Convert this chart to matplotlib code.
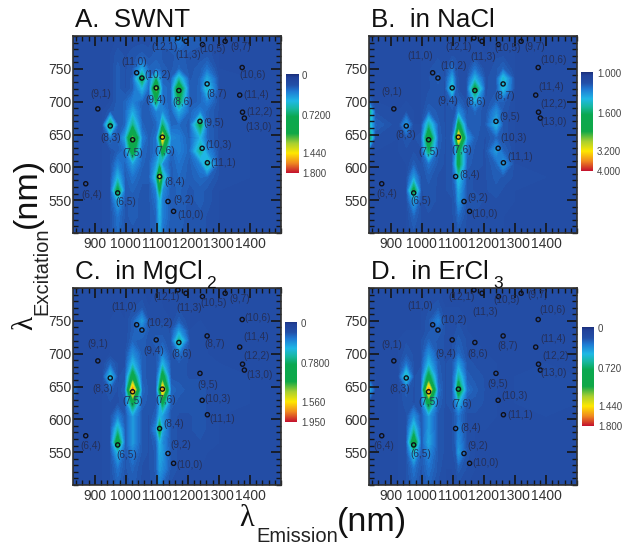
import numpy as np
import matplotlib
matplotlib.use('Agg')
import matplotlib.pyplot as plt
from matplotlib.colors import LinearSegmentedColormap
from matplotlib.ticker import MultipleLocator

plt.rcParams['font.family'] = ['Liberation Sans', 'DejaVu Sans']

# grid of the maps (nm), intensities are in percent of each colour bar
emissao = [830, 850, 925, 950, 974, 998, 1022, 1052, 1075, 1098, 1109, 1118, 1145, 1171, 1205, 1240, 1262, 1300, 1400, 1500]
excitacao = [800, 770, 750, 735, 720, 700, 685, 665, 645, 625, 605, 585, 565, 550, 525, 500]

mapa_a = [
    [10, 10, 10, 10, 10, 10, 10, 10, 10, 12, 13, 13, 14, 18, 14, 13, 12, 10, 10, 10],
    [10, 10, 10, 10, 12, 11, 12, 13, 12, 13, 13, 12, 12, 13, 12, 12, 12, 10, 10, 10],
    [10, 10, 10, 10, 13, 11, 12, 24, 14, 15, 14, 13, 12, 14, 12, 13, 16, 10, 10, 10],
    [10, 10, 10, 10, 13, 11, 13, 44, 15, 38, 22, 14, 13, 32, 12, 14, 24, 11, 10, 10],
    [10, 10, 10, 10, 13, 11, 13, 26, 14, 68, 34, 16, 14, 54, 13, 14, 30, 11, 10, 10],
    [10, 10, 10, 10, 13, 14, 18, 14, 13, 40, 22, 16, 14, 42, 13, 14, 18, 11, 10, 10],
    [10, 10, 10, 12, 13, 14, 24, 13, 13, 18, 18, 20, 13, 24, 14, 18, 14, 11, 10, 10],
    [11, 10, 10, 42, 13, 14, 36, 14, 13, 14, 18, 38, 14, 15, 13, 44, 14, 11, 10, 10],
    [13, 10, 10, 16, 13, 24, 66, 18, 13, 16, 40, 84, 20, 18, 13, 26, 14, 11, 10, 10],
    [10, 10, 10, 11, 13, 16, 50, 15, 13, 16, 22, 50, 14, 18, 14, 36, 20, 11, 10, 10],
    [10, 10, 10, 11, 18, 14, 22, 14, 13, 22, 34, 20, 13, 16, 13, 18, 34, 11, 10, 10],
    [10, 10, 10, 11, 26, 13, 16, 13, 13, 30, 74, 34, 13, 15, 13, 15, 14, 11, 10, 10],
    [10, 10, 10, 11, 46, 13, 14, 12, 12, 18, 42, 20, 13, 14, 12, 13, 12, 10, 10, 10],
    [10, 10, 10, 11, 24, 12, 13, 12, 12, 16, 28, 18, 13, 14, 12, 13, 12, 10, 10, 10],
    [10, 10, 10, 11, 16, 12, 13, 12, 12, 14, 26, 18, 13, 13, 12, 12, 11, 10, 10, 10],
    [10, 10, 10, 11, 15, 11, 12, 12, 12, 14, 24, 16, 12, 13, 11, 12, 11, 10, 10, 10],
]
mapa_b = [
    [10, 10, 10, 10, 10, 10, 10, 10, 10, 10, 10, 10, 10, 10, 10, 10, 10, 10, 10, 10],
    [10, 10, 10, 10, 10, 10, 11, 11, 11, 11, 11, 11, 10, 11, 10, 11, 11, 10, 10, 10],
    [10, 10, 10, 10, 10, 10, 11, 12, 11, 16, 12, 11, 10, 16, 10, 12, 14, 10, 10, 10],
    [10, 10, 10, 10, 10, 10, 11, 13, 11, 24, 13, 11, 11, 26, 11, 12, 30, 10, 10, 10],
    [10, 10, 10, 10, 10, 10, 11, 12, 11, 32, 14, 11, 11, 46, 11, 12, 28, 10, 10, 10],
    [14, 10, 10, 10, 10, 10, 12, 12, 11, 14, 12, 14, 11, 24, 11, 14, 13, 10, 10, 10],
    [40, 11, 10, 11, 10, 10, 14, 12, 11, 12, 12, 20, 12, 14, 11, 20, 12, 10, 10, 10],
    [32, 14, 10, 22, 10, 10, 34, 13, 11, 12, 18, 46, 13, 13, 12, 26, 12, 10, 10, 10],
    [44, 11, 10, 12, 11, 12, 56, 14, 11, 13, 40, 88, 22, 13, 11, 14, 12, 10, 10, 10],
    [12, 10, 10, 11, 11, 11, 40, 13, 11, 12, 20, 44, 15, 12, 11, 22, 14, 10, 10, 10],
    [10, 10, 10, 10, 13, 11, 16, 12, 11, 12, 26, 46, 13, 12, 11, 14, 22, 10, 10, 10],
    [10, 10, 10, 10, 22, 11, 13, 11, 11, 12, 18, 30, 12, 11, 11, 13, 12, 11, 10, 10],
    [10, 10, 10, 10, 46, 11, 12, 11, 11, 12, 14, 24, 12, 11, 11, 12, 11, 10, 10, 10],
    [10, 10, 10, 10, 24, 11, 12, 11, 11, 11, 13, 22, 12, 12, 11, 11, 11, 10, 10, 10],
    [10, 10, 10, 10, 14, 11, 11, 11, 11, 11, 12, 15, 11, 11, 11, 11, 10, 10, 10, 10],
    [10, 10, 10, 10, 12, 11, 11, 11, 11, 11, 11, 12, 11, 11, 11, 11, 10, 10, 10, 10],
]
mapa_c = [
    [10, 10, 10, 10, 10, 10, 10, 10, 10, 10, 10, 10, 10, 11, 10, 10, 10, 10, 10, 10],
    [10, 10, 10, 10, 10, 10, 11, 12, 10, 11, 11, 10, 10, 11, 10, 10, 10, 10, 10, 10],
    [10, 10, 10, 10, 11, 10, 13, 22, 11, 11, 11, 11, 10, 13, 10, 10, 10, 10, 10, 10],
    [10, 10, 10, 10, 11, 10, 13, 16, 12, 12, 12, 12, 11, 22, 10, 11, 10, 10, 10, 10],
    [10, 10, 10, 10, 11, 10, 14, 13, 12, 13, 13, 13, 11, 36, 11, 11, 10, 10, 10, 10],
    [10, 10, 10, 10, 11, 11, 20, 13, 12, 12, 14, 18, 11, 16, 11, 11, 10, 10, 10, 10],
    [10, 10, 10, 14, 11, 11, 27, 13, 12, 12, 16, 26, 12, 12, 11, 11, 11, 10, 10, 10],
    [11, 10, 10, 28, 11, 12, 50, 13, 12, 12, 26, 50, 12, 12, 11, 11, 11, 11, 10, 10],
    [16, 10, 10, 13, 11, 14, 94, 15, 12, 12, 44, 90, 15, 13, 12, 12, 11, 11, 10, 10],
    [10, 10, 10, 11, 11, 12, 46, 13, 12, 12, 20, 44, 13, 12, 12, 12, 11, 11, 10, 10],
    [10, 10, 10, 11, 18, 12, 22, 12, 11, 14, 26, 22, 12, 11, 11, 12, 11, 10, 10, 10],
    [10, 10, 10, 11, 32, 12, 22, 12, 11, 20, 48, 24, 12, 11, 11, 12, 11, 10, 10, 10],
    [10, 10, 10, 11, 52, 12, 22, 12, 11, 14, 26, 20, 12, 11, 11, 11, 11, 10, 10, 10],
    [10, 10, 10, 11, 26, 12, 18, 12, 11, 13, 24, 22, 12, 11, 11, 11, 10, 10, 10, 10],
    [10, 10, 10, 11, 16, 12, 14, 11, 11, 13, 22, 20, 12, 11, 10, 10, 10, 10, 10, 10],
    [10, 10, 10, 11, 14, 11, 13, 11, 11, 12, 18, 14, 11, 10, 10, 10, 10, 10, 10, 10],
]
mapa_d = [
    [10, 10, 10, 10, 10, 10, 10, 10, 10, 10, 10, 10, 10, 10, 10, 10, 10, 10, 10, 10],
    [10, 10, 10, 10, 10, 10, 11, 12, 10, 10, 10, 10, 10, 10, 10, 10, 10, 10, 10, 10],
    [10, 10, 10, 10, 10, 10, 12, 18, 11, 11, 11, 11, 10, 10, 10, 10, 10, 10, 10, 10],
    [10, 10, 10, 10, 10, 10, 12, 14, 11, 11, 11, 12, 10, 10, 10, 10, 10, 10, 10, 10],
    [10, 10, 10, 11, 11, 11, 14, 12, 11, 11, 12, 13, 11, 10, 10, 10, 10, 10, 10, 10],
    [10, 10, 10, 12, 11, 11, 20, 12, 11, 11, 13, 15, 11, 11, 10, 10, 10, 10, 10, 10],
    [10, 10, 10, 16, 11, 11, 26, 13, 11, 12, 16, 22, 12, 11, 11, 10, 10, 10, 10, 10],
    [11, 10, 10, 32, 11, 12, 46, 14, 11, 12, 20, 34, 13, 12, 11, 10, 10, 10, 11, 10],
    [26, 10, 10, 13, 11, 12, 92, 16, 11, 12, 26, 52, 16, 13, 11, 10, 10, 10, 11, 10],
    [10, 10, 10, 12, 11, 12, 48, 14, 11, 12, 18, 26, 12, 12, 11, 10, 10, 10, 11, 10],
    [10, 10, 10, 11, 20, 12, 22, 12, 11, 11, 13, 16, 11, 11, 11, 10, 10, 10, 10, 10],
    [10, 10, 10, 11, 32, 12, 22, 12, 11, 11, 13, 18, 11, 10, 10, 10, 10, 10, 10, 10],
    [10, 10, 10, 11, 54, 12, 24, 12, 11, 11, 13, 20, 11, 10, 10, 10, 10, 10, 10, 10],
    [10, 10, 10, 11, 30, 12, 20, 12, 11, 11, 12, 22, 12, 10, 10, 10, 10, 10, 10, 10],
    [10, 10, 10, 11, 16, 12, 16, 12, 10, 10, 11, 13, 11, 10, 10, 10, 10, 10, 10, 10],
    [10, 10, 10, 11, 14, 11, 14, 11, 10, 10, 10, 11, 10, 10, 10, 10, 10, 10, 10, 10],
]

# (n,m) assignments, same position in every panel
quiralidades = ['(6,4)', '(6,5)', '(8,3)', '(9,1)', '(7,5)', '(11,0)', '(10,2)', '(9,4)', '(7,6)', '(8,4)', '(9,2)', '(10,0)', '(8,6)',
                '(9,5)', '(10,3)', '(11,1)', '(8,7)', '(11,3)', '(12,1)', '(10,5)', '(9,7)', '(10,6)', '(11,4)', '(12,2)', '(13,0)']
pico_em = [871, 974, 950, 910, 1022, 1035, 1052, 1098, 1118, 1109, 1136, 1154, 1171, 1239, 1246, 1263, 1262, 1194, 1168, 1247, 1320, 1375, 1367, 1376, 1382]
pico_ex = [575, 561, 663, 689, 642, 744, 736, 721, 646, 586, 548, 533, 717, 670, 629, 607, 727, 792, 797, 787, 792, 752, 710, 684, 675]

rotulo_x_a = [889, 999, 950, 918, 1021, 1026, 1102, 1098, 1126, 1156, 1186, 1209, 1182, 1282, 1298, 1315, 1294, 1200, 1124, 1279, 1370, 1410, 1420, 1430, 1428]
rotulo_y_a = [558, 547, 645, 712, 622, 761, 740, 702, 625, 578, 551, 527, 700, 667, 634, 607, 711, 771, 783, 780, 784, 740, 710, 685, 662]
rotulo_x_b = [888, 998, 947, 904, 1022, 994, 1102, 1085, 1127, 1155, 1181, 1203, 1173, 1283, 1296, 1318, 1267, 1197, 1119, 1276, 1364, 1423, 1416, 1423, 1423]
rotulo_y_b = [559, 548, 649, 715, 624, 770, 754, 701, 626, 589, 554, 529, 699, 677, 645, 615, 708, 768, 784, 782, 783, 763, 722, 697, 669]
rotulo_x_c = [888, 1004, 926, 909, 1022, 996, 1109, 1090, 1129, 1155, 1178, 1205, 1181, 1263, 1295, 1312, 1285, 1205, 1130, 1282, 1368, 1424, 1419, 1422, 1432]
rotulo_y_c = [559, 546, 646, 714, 628, 771, 747, 704, 630, 593, 561, 531, 700, 653, 631, 601, 715, 770, 786, 777, 783, 755, 725, 696, 667]
rotulo_x_d = [876, 998, 930, 903, 1021, 994, 1103, 1078, 1127, 1156, 1181, 1206, 1179, 1244, 1298, 1317, 1275, 1203, 1129, 1274, 1374, 1421, 1423, 1430, 1426]
rotulo_y_d = [559, 547, 646, 713, 626, 772, 752, 700, 624, 587, 559, 533, 699, 654, 635, 606, 711, 763, 786, 782, 790, 766, 722, 697, 670]

barra_a = ['0', '0.7200', '1.440', '1.800']
barra_b = ['1.000', '1.600', '3.200', '4.000']
barra_c = ['0', '0.7800', '1.560', '1.950']
barra_d = ['0', '0.720', '1.440', '1.800']

LARG, ALT = 623, 544

cores = [(0.0, '#1b2f7a'), (0.03, '#22429a'), (0.11, '#2350a8'), (0.17, '#1f78d2'), (0.27, '#1fb8e6'),
         (0.35, '#18b8a0'), (0.43, '#0ba850'), (0.60, '#10a848'), (0.70, '#a8cf30'), (0.80, '#ffe800'),
         (0.90, '#f08a20'), (1.0, '#c4122e')]
cmap = LinearSegmentedColormap.from_list('pl', cores)
niveis = np.linspace(0, 100, 81)


def eixo_px(fig, esq, topo, dir, base):
    return fig.add_axes([esq / LARG, 1 - base / ALT, (dir - esq) / LARG, (base - topo) / ALT])


def texto_px(fig, x, y, s, **kw):
    fig.text(x / LARG, 1 - y / ALT, s, ha=kw.pop('ha', 'center'), va=kw.pop('va', 'center'), **kw)


def painel(fig, caixa, barra, mapa, rot_x, rot_y, titulo, extra, nomes, y_nomes):
    ax = eixo_px(fig, *caixa)
    ax.contourf(emissao, excitacao, mapa, levels=niveis, cmap=cmap, vmin=0, vmax=100)
    ax.scatter(pico_em, pico_ex, s=9, facecolors='none', edgecolors='#101018', linewidths=1.0, zorder=3)
    for nome, x, y in zip(quiralidades, rot_x, rot_y):
        ax.text(x, y, nome, fontsize=7.2, color='#25305a', ha='center', va='center', zorder=4)
    ax.set_xlim(830, 1500)
    ax.set_ylim(500, 800)
    ax.xaxis.set_minor_locator(MultipleLocator(20))
    ax.yaxis.set_minor_locator(MultipleLocator(10))
    ax.set_xticks(range(900, 1500, 100))
    ax.set_yticks(range(550, 800, 50))
    ax.tick_params(which='major', direction='in', top=True, right=True, length=7, width=1.2, labelsize=10, colors='#151515')
    ax.tick_params(which='minor', direction='in', top=True, right=True, length=3.5, width=1.0, color='#151515')
    ax.tick_params(axis='x', pad=3, labelcolor='#333333')
    ax.tick_params(axis='y', pad=1, labelcolor='#333333')
    for s in ax.spines.values():
        s.set_linewidth(1.2)
        s.set_color('#303030')
    # title with its subscript as separate text
    texto_px(fig, caixa[0] + 2, caixa[1] - 16, titulo, fontsize=18.6, ha='left', color='#111111')
    if extra:
        texto_px(fig, extra[0], extra[1], extra[2], fontsize=12.5, color='#111111')
    # colour bar
    cb = eixo_px(fig, *barra)
    cb.imshow(np.linspace(0, 1, 256).reshape(-1, 1), aspect='auto', cmap=cmap, extent=[0, 1, 1, 0])
    cb.set_xticks([])
    cb.set_yticks([])
    for s in cb.spines.values():
        s.set_visible(False)
    for nome, fr in zip(nomes, y_nomes):
        texto_px(fig, barra[2] + 4, barra[1] + fr * (barra[3] - barra[1]), nome, fontsize=7, ha='left', color='#444444')


fig = plt.figure(figsize=(LARG / 100, ALT / 100), dpi=100)

pos_nomes = [0.02, 0.42, 0.81, 1.01]
painel(fig, (73, 36, 281, 233), (286, 74, 298, 173), mapa_a, rotulo_x_a, rotulo_y_a, 'A.  SWNT', None, barra_a, pos_nomes)
painel(fig, (369, 36, 577, 233), (581, 72, 593, 171), mapa_b, rotulo_x_b, rotulo_y_b, 'B.  in NaCl', None, barra_b, pos_nomes)
painel(fig, (73, 288, 281, 485), (285, 322, 297, 422), mapa_c, rotulo_x_c, rotulo_y_c, 'C.  in MgCl', (211, 284, '2'), barra_c, pos_nomes)
painel(fig, (369, 288, 577, 485), (582, 327, 594, 426), mapa_d, rotulo_x_d, rotulo_y_d, 'D.  in ErCl', (498, 284, '3'), barra_d, pos_nomes)

texto_px(fig, 25, 323, 'λ', fontsize=21, rotation=90, family='Liberation Serif', color='#111111')
texto_px(fig, 42, 271, 'Excitation', fontsize=14.5, rotation=90, color='#222222')
texto_px(fig, 27, 193, '(nm)', fontsize=24.5, rotation=90, color='#111111')
texto_px(fig, 247, 519, 'λ', fontsize=22, family='Liberation Serif', color='#111111')
texto_px(fig, 297, 536, 'Emission', fontsize=14.5, color='#222222')
texto_px(fig, 372, 522, '(nm)', fontsize=24.5, color='#111111')

fig.savefig('out.png', dpi=100)
